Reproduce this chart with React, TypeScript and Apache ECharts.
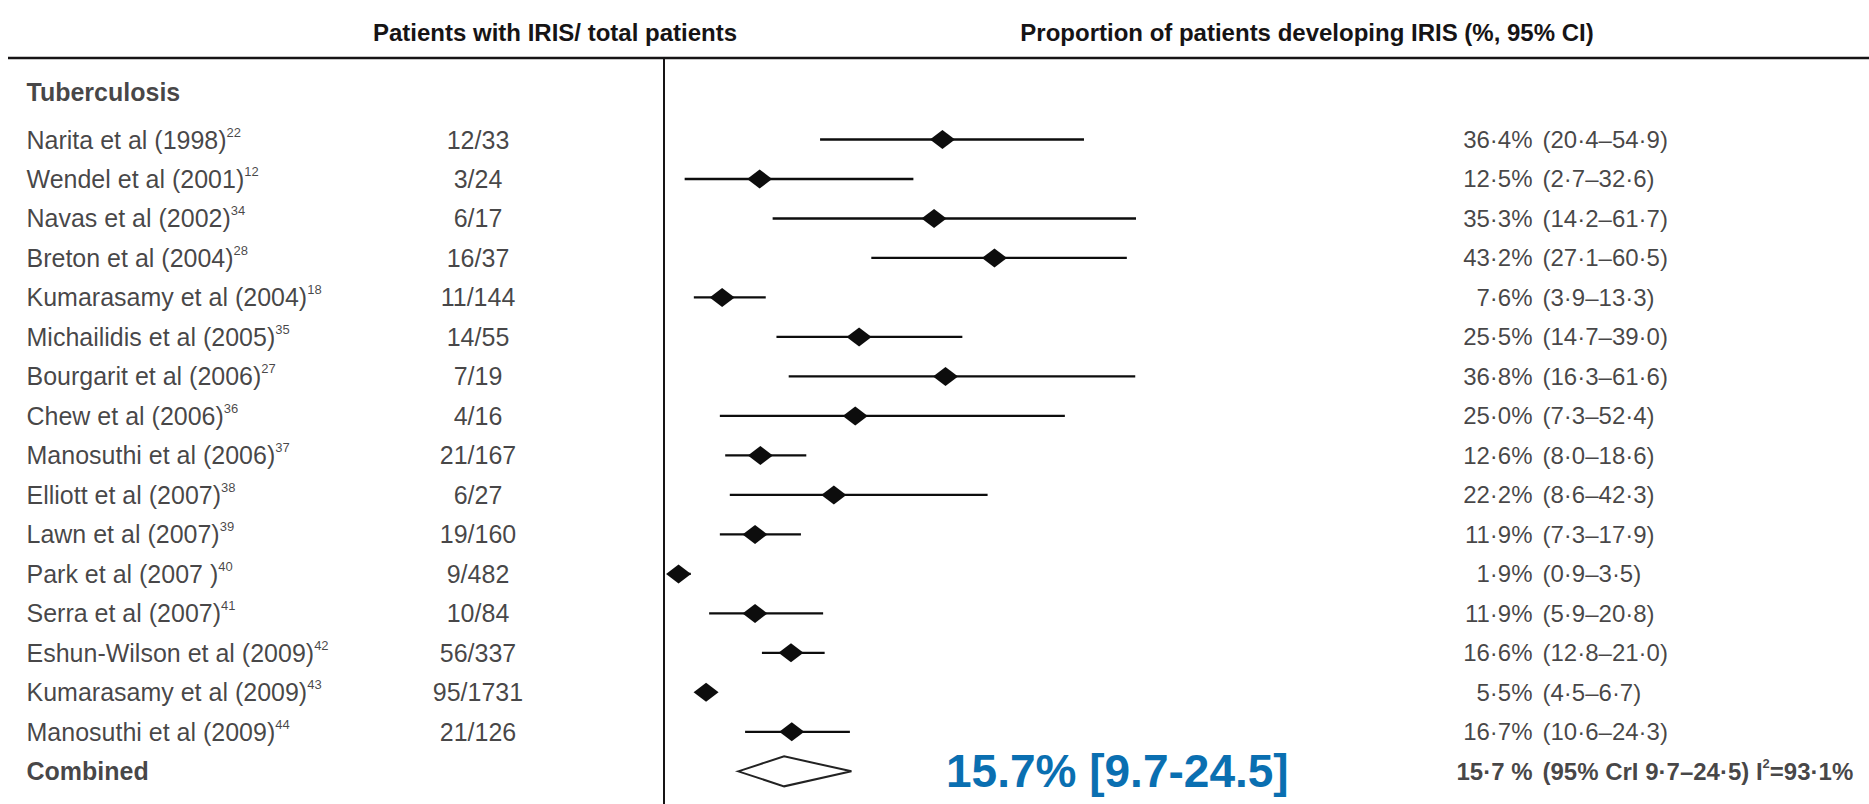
import React, { useEffect, useRef } from "react";
import * as echarts from "echarts";

// ---------- data ----------
const headerLeft = "Patients with IRIS/ total patients";
const headerRight = "Proportion of patients developing IRIS (%, 95% CI)";
const groupLabel = "Tuberculosis";
const combinedLabel = "Combined";

const studies = [
  "Narita et al (1998)",
  "Wendel et al (2001)",
  "Navas et al (2002)",
  "Breton et al (2004)",
  "Kumarasamy et al (2004)",
  "Michailidis et al (2005)",
  "Bourgarit et al (2006)",
  "Chew et al (2006)",
  "Manosuthi et al (2006)",
  "Elliott et al (2007)",
  "Lawn et al (2007)",
  "Park et al (2007 )",
  "Serra et al (2007)",
  "Eshun-Wilson et al (2009)",
  "Kumarasamy et al (2009)",
  "Manosuthi et al (2009)",
];
const refs = ["22", "12", "34", "28", "18", "35", "27", "36", "37", "38", "39", "40", "41", "42", "43", "44"];
const counts = ["12/33", "3/24", "6/17", "16/37", "11/144", "14/55", "7/19", "4/16", "21/167", "6/27", "19/160", "9/482", "10/84", "56/337", "95/1731", "21/126"];
const estimates = [36.4, 12.5, 35.3, 43.2, 7.6, 25.5, 36.8, 25.0, 12.6, 22.2, 11.9, 1.9, 11.9, 16.6, 5.5, 16.7];
const lower = [20.4, 2.7, 14.2, 27.1, 3.9, 14.7, 16.3, 7.3, 8.0, 8.6, 7.3, 0.9, 5.9, 12.8, 4.5, 10.6];
const upper = [54.9, 32.6, 61.7, 60.5, 13.3, 39.0, 61.6, 52.4, 18.6, 42.3, 17.9, 3.5, 20.8, 21.0, 6.7, 24.3];
const combinedEst = 15.7;
const combinedLo = 9.7;
const combinedHi = 24.5;
const combinedI2 = 93.1;
const annotation = "15.7% [9.7-24.5]";

// ---------- layout ----------
const W = 1869;
const H = 804;
const TOP = 58;
const ROW_H = 39.49;
const FIRST_Y = 139.5;
const GROUP_Y = 91.8;
const Y_MIN = 1 - (FIRST_Y - TOP) / ROW_H;
const Y_MAX = Y_MIN + (H - TOP) / ROW_H;
const GROUP_ROW = 1 - (FIRST_Y - GROUP_Y) / ROW_H;
const COMBINED_ROW = studies.length + 1;
const FONT = "'Liberation Sans', Arial, sans-serif";
const INK = "#161415";

const fmt = (v: number) => v.toFixed(1).replace(".", "·");

const grids = [
  { left: 664, top: TOP, width: 765, height: H - TOP }, // forest
  { left: 26, top: TOP, width: 300, height: H - TOP }, // names
  { left: 378, top: TOP, width: 200, height: H - TOP }, // counts
  { left: 1233, top: TOP, width: 300, height: H - TOP }, // percent
  { left: 1542, top: TOP, width: 300, height: H - TOP }, // CI
];

const hiddenDot = { color: "rgba(0,0,0,0)" };

function buildOption() {
  const rows = studies.map((_, i) => i + 1);

  const xAxes = grids.map((_, i) => ({
    type: "value",
    gridIndex: i,
    min: 0,
    max: i === 0 ? 100 : 1,
    show: false,
  }));
  const yAxes = grids.map((_, i) => ({
    type: "value",
    gridIndex: i,
    inverse: true,
    min: Y_MIN,
    max: Y_MAX,
    show: i === 0,
    position: "left",
    axisLine: { show: i === 0, lineStyle: { color: INK, width: 2 } },
    axisTick: { show: false },
    axisLabel: { show: false },
    splitLine: { show: false },
  }));

  const textBase = { fontFamily: FONT, color: INK };

  const nameData = [
    { value: [0, GROUP_ROW], txt: groupLabel, bold: true },
    ...studies.map((s, i) => ({ value: [0, rows[i]], txt: s, sup: refs[i], bold: false })),
    { value: [0, COMBINED_ROW], txt: combinedLabel, bold: true },
  ];

  const series: any[] = [
    // names
    {
      type: "scatter",
      xAxisIndex: 1,
      yAxisIndex: 1,
      symbolSize: 1,
      itemStyle: hiddenDot,
      silent: true,
      data: nameData,
      label: {
        show: true,
        position: "right",
        distance: 0,
        formatter: (p: any) =>
          p.data.bold ? `{b|${p.data.txt}}` : `{n|${p.data.txt}}{s|${p.data.sup}}`,
        rich: {
          n: { ...textBase, fontSize: 25, lineHeight: 28 },
          s: { ...textBase, fontSize: 13, lineHeight: 14, verticalAlign: "top" },
          b: { ...textBase, fontSize: 25, lineHeight: 28, fontWeight: "bold" },
        },
      },
    },
    // counts
    {
      type: "scatter",
      xAxisIndex: 2,
      yAxisIndex: 2,
      symbolSize: 1,
      itemStyle: hiddenDot,
      silent: true,
      data: counts.map((c, i) => ({ value: [0.5, rows[i]], txt: c })),
      label: {
        show: true,
        position: "inside",
        formatter: (p: any) => p.data.txt,
        ...textBase,
        fontSize: 25,
      },
    },
    // percent (right aligned)
    {
      type: "scatter",
      xAxisIndex: 3,
      yAxisIndex: 3,
      symbolSize: 1,
      itemStyle: hiddenDot,
      silent: true,
      data: [
        ...estimates.map((e, i) => ({ value: [1, rows[i]], txt: `${fmt(e)}%`, bold: false })),
        { value: [1, COMBINED_ROW], txt: `${fmt(combinedEst)} %`, bold: true },
      ],
      label: {
        show: true,
        position: "left",
        distance: 0,
        formatter: (p: any) => (p.data.bold ? `{b|${p.data.txt}}` : `{n|${p.data.txt}}`),
        rich: {
          n: { ...textBase, fontSize: 24 },
          b: { ...textBase, fontSize: 24, fontWeight: "bold" },
        },
      },
    },
    // CI (left aligned)
    {
      type: "scatter",
      xAxisIndex: 4,
      yAxisIndex: 4,
      symbolSize: 1,
      itemStyle: hiddenDot,
      silent: true,
      data: [
        ...estimates.map((_, i) => ({
          value: [0, rows[i]],
          txt: `{n|(${fmt(lower[i])}–${fmt(upper[i])})}`,
        })),
        {
          value: [0, COMBINED_ROW],
          txt: `{b|(95% CrI ${fmt(combinedLo)}–${fmt(combinedHi)}) I}{s|2}{b|=${fmt(combinedI2)}%}`,
        },
      ],
      label: {
        show: true,
        position: "right",
        distance: 0,
        formatter: (p: any) => p.data.txt,
        rich: {
          n: { ...textBase, fontSize: 24, lineHeight: 28 },
          b: { ...textBase, fontSize: 24, lineHeight: 28, fontWeight: "bold" },
          s: { ...textBase, fontSize: 13, lineHeight: 14, verticalAlign: "top", fontWeight: "bold" },
        },
      },
    },
    // CI whiskers
    {
      type: "custom",
      xAxisIndex: 0,
      yAxisIndex: 0,
      silent: true,
      data: lower.map((lo, i) => [lo, upper[i], rows[i]]),
      renderItem: (_params: any, api: any) => {
        const a = api.coord([api.value(0), api.value(2)]);
        const b = api.coord([api.value(1), api.value(2)]);
        return {
          type: "line",
          shape: { x1: a[0], y1: a[1], x2: b[0], y2: b[1] },
          style: { stroke: "#0d0d0d", lineWidth: 2.3 },
        };
      },
    },
    // study estimates
    {
      type: "scatter",
      xAxisIndex: 0,
      yAxisIndex: 0,
      silent: true,
      symbol: "diamond",
      symbolSize: [25, 19],
      itemStyle: { color: "#0d0d0d", opacity: 1 },
      data: estimates.map((e, i) => [e, rows[i]]),
      z: 5,
    },
    // combined diamond
    {
      type: "custom",
      xAxisIndex: 0,
      yAxisIndex: 0,
      silent: true,
      data: [[combinedLo, combinedHi, combinedEst, COMBINED_ROW]],
      renderItem: (_params: any, api: any) => {
        const row = api.value(3);
        const l = api.coord([api.value(0), row]);
        const r = api.coord([api.value(1), row]);
        const c = api.coord([api.value(2), row]);
        return {
          type: "polygon",
          shape: {
            points: [
              [l[0], l[1]],
              [c[0], c[1] - 15],
              [r[0], r[1]],
              [c[0], c[1] + 15],
            ],
          },
          style: { fill: "#fff", stroke: "#222", lineWidth: 2 },
        };
      },
    },
  ];

  return {
    animation: false,
    backgroundColor: "#fff",
    grid: grids,
    xAxis: xAxes,
    yAxis: yAxes,
    series,
    graphic: [
      {
        type: "line",
        shape: { x1: 8, y1: TOP, x2: W, y2: TOP },
        style: { stroke: INK, lineWidth: 2.5 },
        silent: true,
      },
      {
        type: "text",
        x: 555,
        y: 32,
        style: {
          text: headerLeft,
          fontFamily: FONT,
          fontSize: 24,
          fontWeight: "bold",
          fill: INK,
          textAlign: "center",
          textVerticalAlign: "middle",
        },
      },
      {
        type: "text",
        x: 1307,
        y: 32,
        style: {
          text: headerRight,
          fontFamily: FONT,
          fontSize: 24,
          fontWeight: "bold",
          fill: INK,
          textAlign: "center",
          textVerticalAlign: "middle",
        },
      },
      {
        type: "text",
        x: 946,
        y: 771,
        style: {
          text: annotation,
          fontFamily: FONT,
          fontSize: 46,
          fontWeight: "bold",
          fill: "#0a6fb1",
          textAlign: "left",
          textVerticalAlign: "middle",
        },
      },
    ],
  };
}

export default function App() {
  const ref = useRef<HTMLDivElement>(null);
  useEffect(() => {
    if (!ref.current) return;
    const chart = echarts.init(ref.current, undefined, { renderer: "svg" });
    chart.setOption(buildOption() as any);
    return () => chart.dispose();
  }, []);
  return (
    <div
      ref={ref}
      style={{ position: "fixed", left: 0, top: 0, width: W, height: H, background: "#fff" }}
    />
  );
}
